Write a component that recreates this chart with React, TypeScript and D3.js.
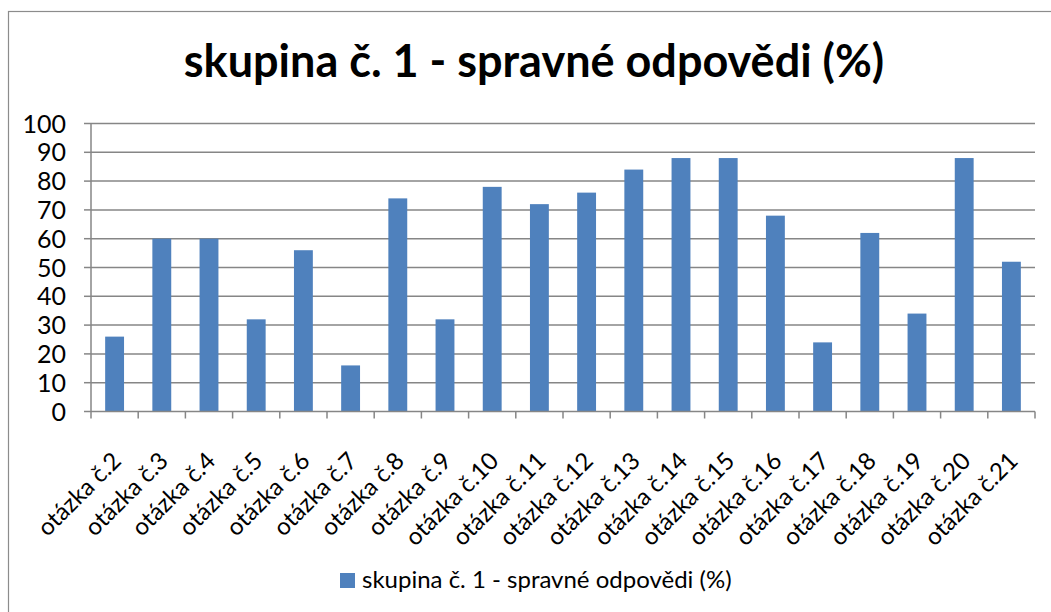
import React from 'react';
import * as d3 from 'd3';

const categories = [
  'otázka č.2', 'otázka č.3', 'otázka č.4', 'otázka č.5', 'otázka č.6',
  'otázka č.7', 'otázka č.8', 'otázka č.9', 'otázka č.10', 'otázka č.11',
  'otázka č.12', 'otázka č.13', 'otázka č.14', 'otázka č.15', 'otázka č.16',
  'otázka č.17', 'otázka č.18', 'otázka č.19', 'otázka č.20', 'otázka č.21',
];
const values = [26, 60, 60, 32, 56, 16, 74, 32, 78, 72, 76, 84, 88, 88, 68, 24, 62, 34, 88, 52];
const yTicks = [0, 10, 20, 30, 40, 50, 60, 70, 80, 90, 100];
const seriesName = 'skupina č. 1 - spravné odpovědi (%)';
const title = 'skupina č. 1 - spravné odpovědi (%)';

const W = 1051;
const H = 612;
const plot = { left: 91, right: 1035, top: 123.5, bottom: 411.5 };
const font = 'Lato, "Open Sans", sans-serif';
const barColor = '#4F81BD';
const gridColor = '#868686';

export default function App() {
  const x = d3.scaleBand<string>()
    .domain(categories)
    .range([plot.left, plot.right])
    .paddingInner(0.6)
    .paddingOuter(0.3);
  const bandStep = (plot.right - plot.left) / categories.length;
  const y = d3.scaleLinear().domain([0, 100]).range([plot.bottom, plot.top]);

  return (
    <svg width={W} height={H} style={{ position: 'absolute', left: 0, top: 0, display: 'block' }}>
      <rect x={0} y={0} width={W} height={H} fill="#fff" />
      <rect x={8.5} y={11.5} width={W + 10} height={H + 10} fill="none" stroke="#8c8c8c" strokeWidth={1.2} />

      <text x={534} y={77} textAnchor="middle" fontFamily={font} fontWeight="bold" fontSize={45} fill="#000">
        {title}
      </text>

      {/* grid + y axis */}
      {yTicks.map(t => (
        <g key={t}>
          {t > 0 && (
            <line x1={plot.left} x2={plot.right} y1={y(t)} y2={y(t)} stroke={gridColor} strokeWidth={1.5} />
          )}
          <line x1={plot.left - 7} x2={plot.left} y1={y(t)} y2={y(t)} stroke={gridColor} strokeWidth={1.5} />
          <text x={66} y={y(t)} dy="0.36em" textAnchor="end" fontFamily={font} fontSize={25} fill="#000">
            {t}
          </text>
        </g>
      ))}
      <line x1={plot.left} x2={plot.left} y1={plot.top} y2={plot.bottom} stroke={gridColor} strokeWidth={1.5} />

      {/* bars */}
      {values.map((v, i) => (
        <rect
          key={categories[i]}
          x={x(categories[i])}
          y={y(v)}
          width={x.bandwidth()}
          height={y(0) - y(v)}
          fill={barColor}
        />
      ))}

      {/* x axis */}
      <line x1={plot.left} x2={plot.right} y1={plot.bottom} y2={plot.bottom} stroke={gridColor} strokeWidth={1.5} />
      {d3.range(categories.length + 1).map(i => (
        <line
          key={i}
          x1={plot.left + i * bandStep}
          x2={plot.left + i * bandStep}
          y1={plot.bottom}
          y2={plot.bottom + 7}
          stroke={gridColor}
          strokeWidth={1.5}
        />
      ))}
      {categories.map(c => {
        const cx = (x(c) ?? 0) + x.bandwidth() / 2;
        return (
          <text
            key={c}
            transform={`translate(${cx - 4},${plot.bottom + 39}) rotate(-45)`}
            textAnchor="end"
            dy="0.7em"
            fontFamily={font}
            fontSize={24}
            fill="#000"
          >
            {c}
          </text>
        );
      })}

      {/* legend */}
      <rect x={340} y={573} width={15} height={15} fill={barColor} />
      <text x={362} y={588} fontFamily={font} fontSize={24} fill="#000">
        {seriesName}
      </text>
    </svg>
  );
}
